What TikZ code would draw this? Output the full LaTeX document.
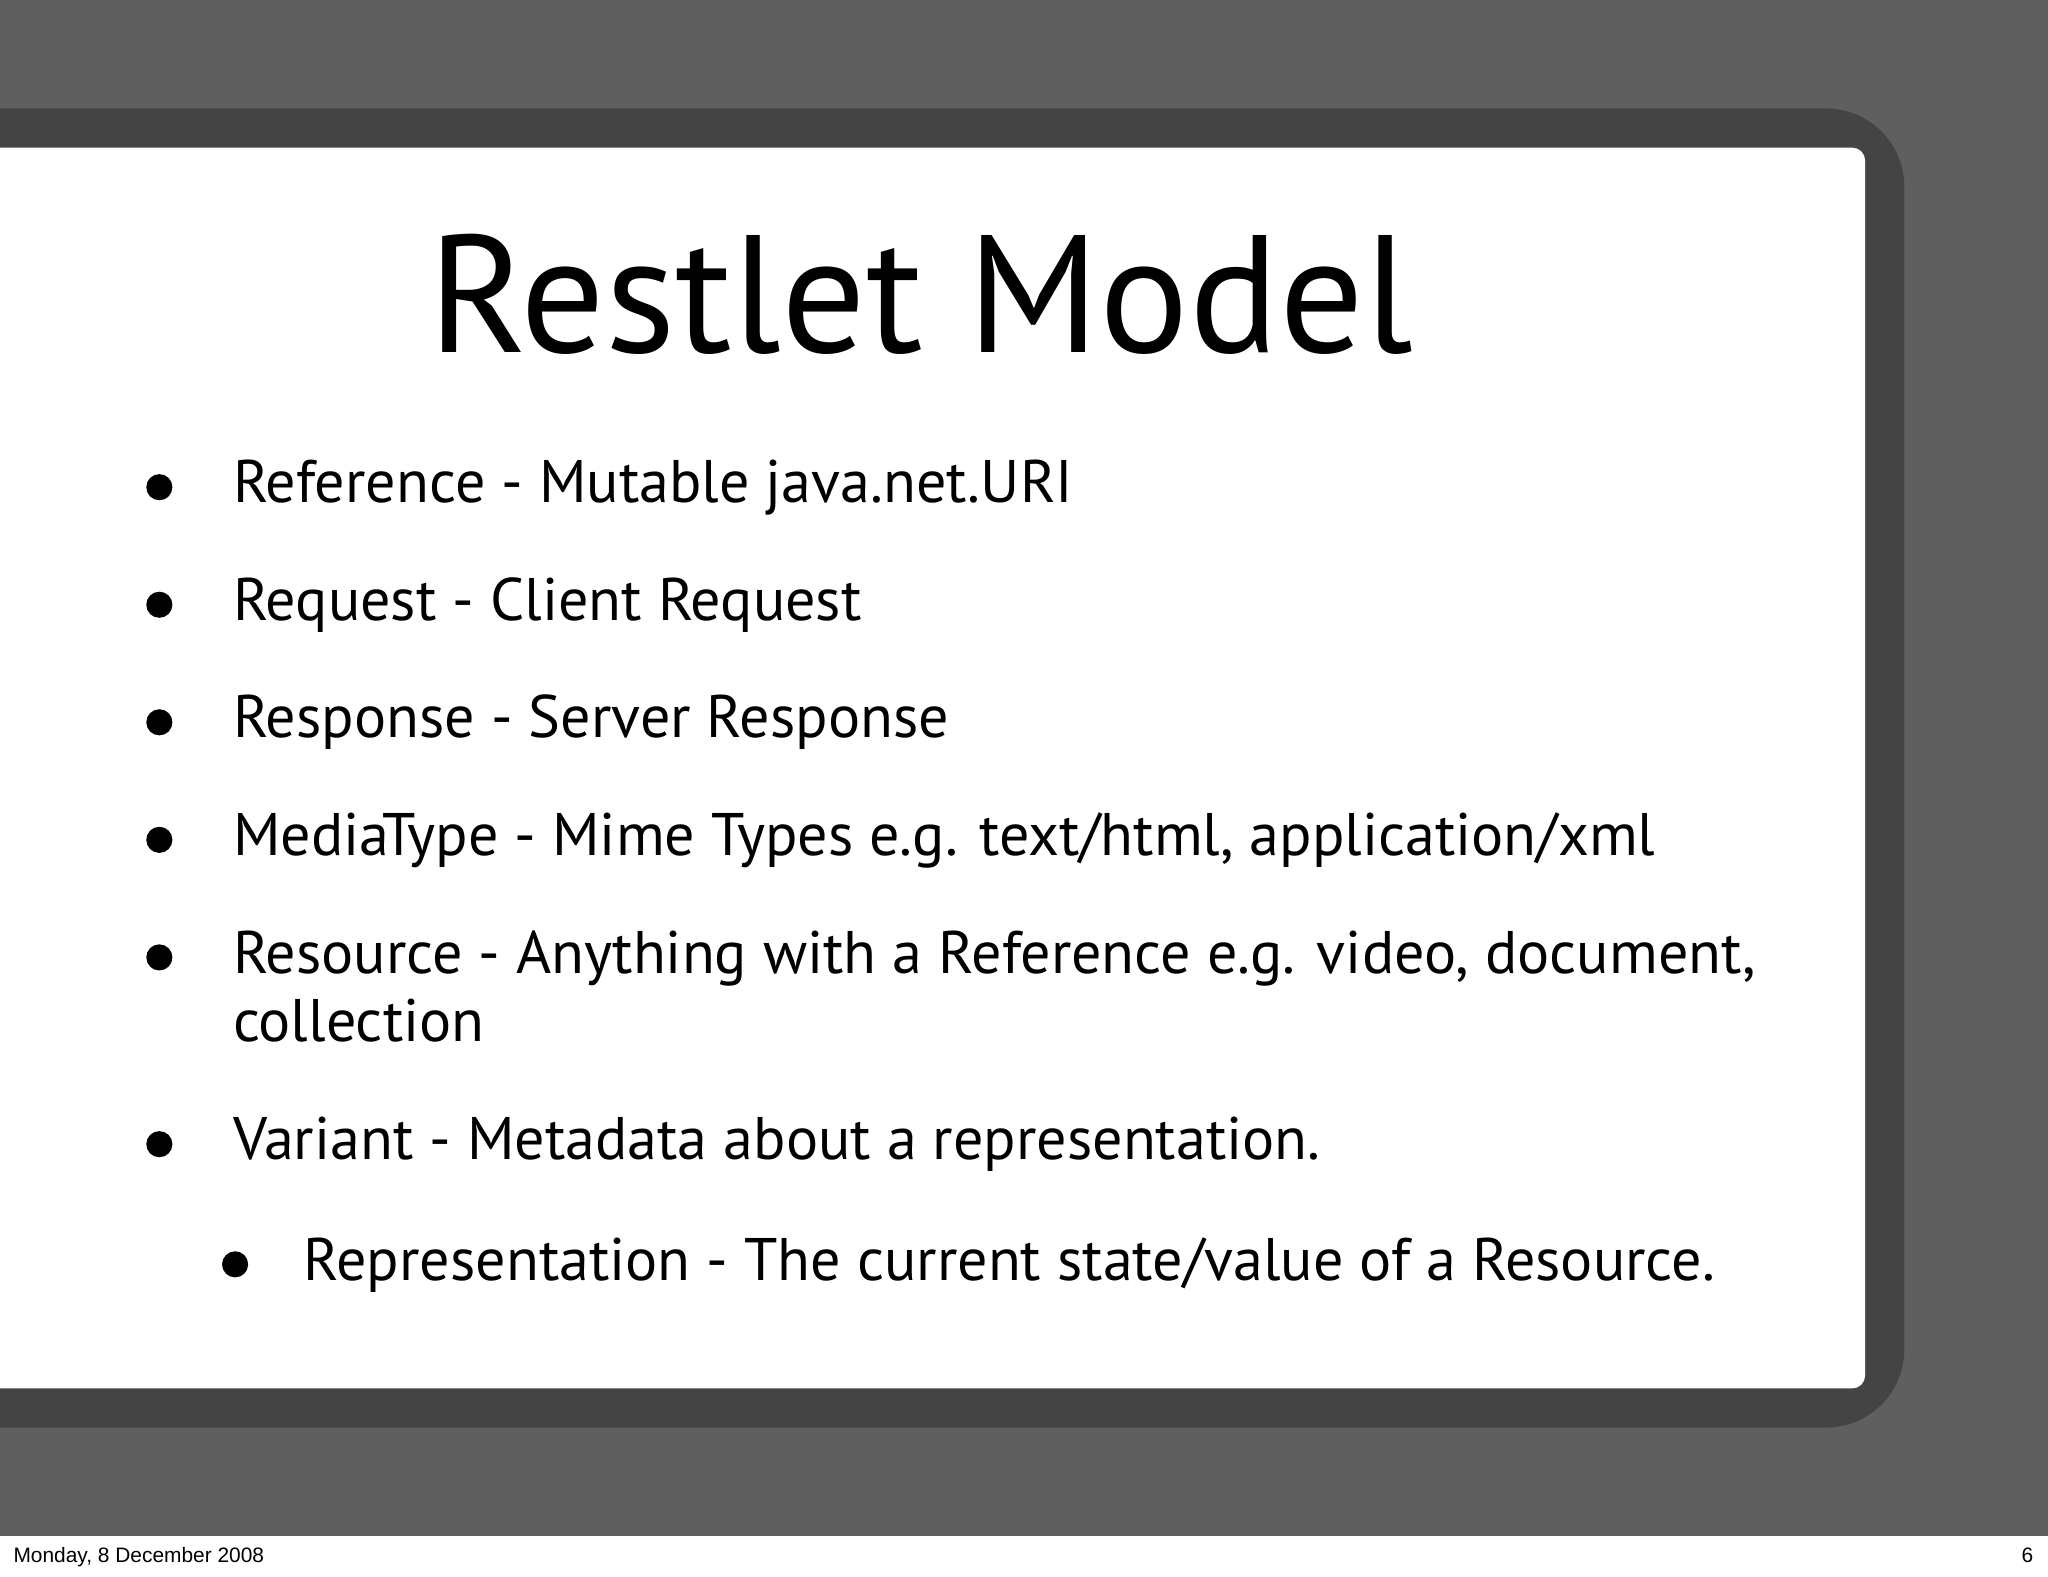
\documentclass[tikz,border=0pt]{standalone}
\usepackage{fontspec}
\setmainfont{PT Sans}
\newfontfamily\footfont{Liberation Sans}
\begin{document}
\begin{tikzpicture}[x=0.5pt,y=-0.5pt,
  item/.style={anchor=base west,inner sep=0pt,font=\fontsize{23}{28}\selectfont},
  dot/.style={circle,fill=black,inner sep=0pt,minimum size=10pt},
  foot/.style={anchor=base,inner sep=0pt,font=\footfont\fontsize{8}{10}\selectfont}]
\useasboundingbox (0,0) rectangle (1568,1207);
\fill[color={rgb,255:red,95;green,95;blue,95}] (0,0) rectangle (1568,1176);
\fill[white] (0,1176) rectangle (1568,1207);
\fill[color={rgb,255:red,68;green,68;blue,68},rounded corners=30pt] (-60,83) rectangle (1458,1093);
\fill[white,rounded corners=5pt] (-40,113) rectangle (1428,1063);
\node[anchor=base,inner sep=0pt,font=\fontsize{64}{70}\selectfont] (title) at (705,270) {Restlet Model};
\foreach \n/\y/\t in {1/385/{Reference - Mutable java.net.URI},
  2/475/{Request - Client Request},
  3/565/{Response - Server Response},
  4/655/{MediaType - Mime Types e.g. text/html, application/xml},
  5/745/{Resource - Anything with a Reference e.g. video, document,},
  6/888/{Variant - Metadata about a representation.}}{
  \node[dot] (d\n) at (122,\y-12) {};
  \node[item] (t\n) at (178,\y) {\t};
}
\node[item] (t5b) at (178,797) {collection};
\node[dot] (d7) at (180,968) {};
\node[item] (t7) at (232,980) {Representation - The current state/value of a Resource.};
\node[foot,anchor=base west] (date) at (10,1196) {Monday, 8 December 2008};
\node[foot,anchor=base east] (page) at (1557,1196) {6};
\end{tikzpicture}
\end{document}
